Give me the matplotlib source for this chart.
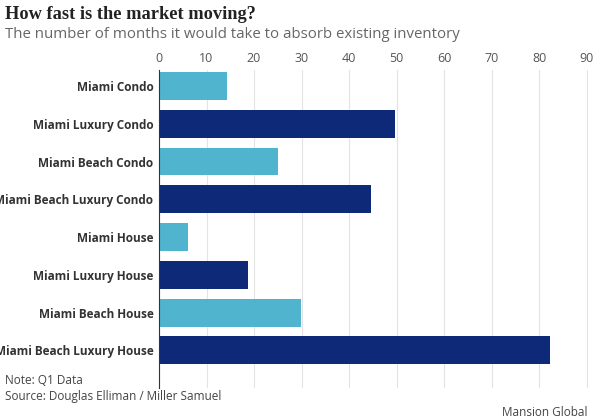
import matplotlib.pyplot as plt
import numpy as np

categories = ['Miami Condo', 'Miami Luxury Condo', 'Miami Beach Condo',
              'Miami Beach Luxury Condo', 'Miami House', 'Miami Luxury House',
              'Miami Beach House', 'Miami Beach Luxury House']
months = [14.4, 49.6, 25.1, 44.7, 6.0, 18.8, 29.8, 82.2]
luxury = [False, True, False, True, False, True, False, True]
ticks = [0, 10, 20, 30, 40, 50, 60, 70, 80, 90]

light = '#51b4ce'
dark = '#0e2978'

plt.rcParams['font.family'] = ['Open Sans', 'DejaVu Sans']

fig = plt.figure(figsize=(6, 4.2), dpi=100)
ax = fig.add_axes([0.265, 0.076, 0.715, 0.757])

y = np.arange(len(categories))
colors = [dark if l else light for l in luxury]
ax.barh(y, months, height=0.74, color=colors, zorder=3)

ax.set_xlim(0, 90.3)
ax.set_ylim(len(categories) - 1 + 1.0, -0.42)
ax.set_xticks(ticks)
ax.xaxis.tick_top()
ax.tick_params(axis='x', length=0, labelsize=9, labelcolor='#555555', pad=4)
ax.tick_params(axis='y', length=0, pad=4)
ax.set_yticks(y)
ax.set_yticklabels(categories, fontsize=8.5, fontweight='bold', color='#333333')
ax.grid(axis='x', color='#e3e3e3', lw=0.8, zorder=0)
for s in ['top', 'right', 'bottom']:
    ax.spines[s].set_visible(False)
ax.spines['left'].set_color('#333333')
ax.spines['left'].set_linewidth(0.8)
ax.spines['left'].set_zorder(4)

fig.text(0.008, 0.966, 'How fast is the market moving?', family='Liberation Serif',
         fontweight='bold', fontsize=13.2, color='#222222', va='center')
fig.text(0.008, 0.917, 'The number of months it would take to absorb existing inventory',
         fontsize=10.8, color='#666666', va='center')
fig.text(0.008, 0.093, 'Note: Q1 Data', fontsize=8.5, color='#444444', va='center')
fig.text(0.008, 0.057, 'Source: Douglas Elliman / Miller Samuel', fontsize=8.5,
         color='#444444', va='center')
fig.text(0.98, 0.017, 'Mansion Global', fontsize=8.5, color='#444444',
         va='center', ha='right')

fig.savefig('out.png', dpi=100, facecolor='white')
